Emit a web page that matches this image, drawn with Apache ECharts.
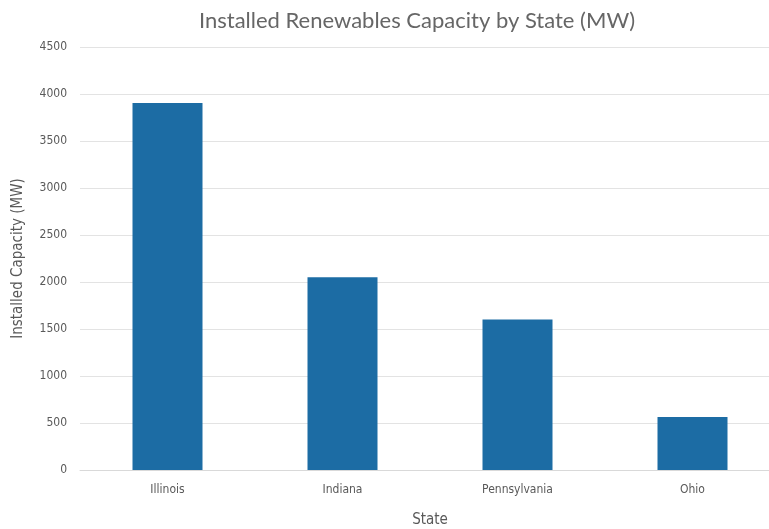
<!DOCTYPE html>
<html><head><meta charset="utf-8">
<script src="https://cdn.jsdelivr.net/npm/echarts@6/dist/echarts.min.js"></script>
<style>html,body{margin:0;padding:0;background:#fff}#c{width:769px;height:529px}</style>
</head><body><div id="c"></div>
<script>
const categories = ["Illinois", "Indiana", "Pennsylvania", "Ohio"];
const capacityMW = [3905, 2050, 1600, 565];
const yTicks = [0, 500, 1000, 1500, 2000, 2500, 3000, 3500, 4000, 4500];

const narrow = 'DejaVu Sans Condensed, Roboto';
const chart = echarts.init(document.getElementById('c'));
chart.setOption({
  animation: false,
  title: {
    text: 'Installed Renewables Capacity by State (MW)',
    left: 412, top: 5, textAlign: 'center',
    textStyle: {fontFamily: 'Lato', fontWeight: 400, fontSize: 22, color: '#666666'}
  },
  grid: {left: 80, top: 47, width: 700, height: 423, outerBoundsMode: 'none', containLabel: false},
  xAxis: {
    type: 'category', data: categories,
    name: 'State', nameLocation: 'middle', nameGap: 43,
    nameTextStyle: {fontFamily: narrow, fontSize: 15, color: '#595959'},
    axisLine: {show: true, lineStyle: {color: '#d9d9d9'}},
    axisTick: {show: false},
    axisLabel: {fontFamily: narrow, fontSize: 12, color: '#595959', margin: 14}
  },
  yAxis: {
    type: 'value', min: yTicks[0], max: yTicks[yTicks.length - 1], interval: 500,
    name: 'Installed Capacity (MW)', nameLocation: 'middle', nameGap: 54,
    nameTextStyle: {fontFamily: narrow, fontSize: 15, color: '#595959'},
    axisLine: {show: false}, axisTick: {show: false},
    axisLabel: {fontFamily: narrow, fontSize: 12, color: '#595959', margin: 13, formatter: v => String(v)},
    splitLine: {lineStyle: {color: '#e3e3e3'}}
  },
  series: [{
    type: 'bar', data: capacityMW, barWidth: 70,
    itemStyle: {color: '#1c6ca4'}
  }]
});
</script></body></html>
